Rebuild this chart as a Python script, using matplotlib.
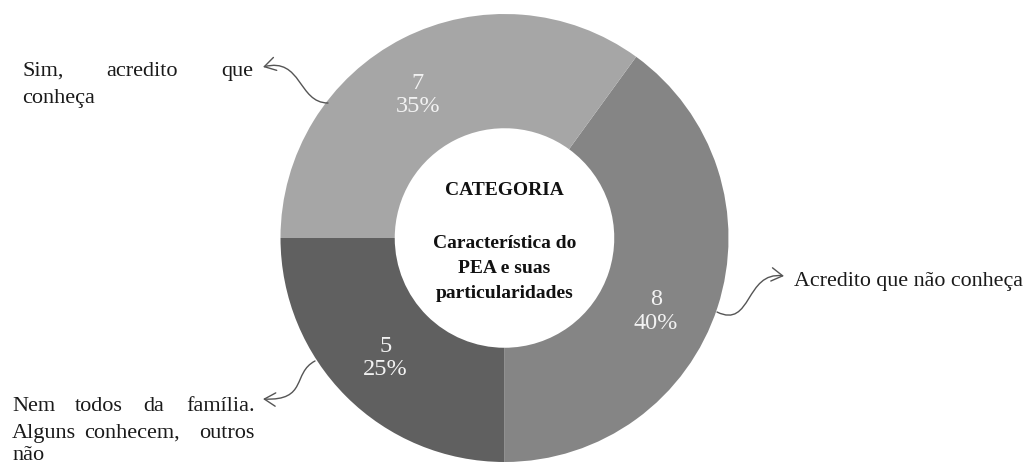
import numpy as np
import matplotlib
matplotlib.use("Agg")
import matplotlib.pyplot as plt
from matplotlib.patches import FancyArrowPatch
from matplotlib.path import Path

# ---- data ----
categories = ["Acredito que não conheça",
              "Nem todos da família. Alguns conhecem, outros não",
              "Sim, acredito que conheça"]
counts = [8, 5, 7]
percents = [40, 25, 35]
center_title = "CATEGORIA"
center_lines = ["Característica do", "PEA e suas", "particularidades"]

colors = ["#858585", "#606060", "#a6a6a6"]
label_angle_offset = [-7.5, 0.0, 4.0]

W, H = 1028, 464
fig = plt.figure(figsize=(W / 100, H / 100), dpi=100)
plt.rcParams["font.family"] = ["Liberation Serif", "DejaVu Serif"]

def fx(px):
    return px / W

def fy(py):
    return 1 - py / H

cx, cy, R = 504.5, 239, 224
ax = fig.add_axes([fx(cx - R), fy(cy + R), 2 * R / W, 2 * R / H])
wedges, _ = ax.pie(counts, colors=colors, startangle=54, counterclock=False,
                   radius=1.0, wedgeprops=dict(width=0.51, linewidth=0))
ax.set_xlim(-1, 1)
ax.set_ylim(-1, 1)
ax.set_aspect("equal")
ax.axis("off")

for w, c, p, off in zip(wedges, counts, percents, label_angle_offset):
    mid = np.deg2rad((w.theta1 + w.theta2) / 2 + off)
    r = 0.75
    ax.text(r * np.cos(mid), r * np.sin(mid), f"{c}\n{p}%", ha="center",
            va="center", color="#f2f2f2", fontsize=17.5, linespacing=1.15)

# center text (baselines in pixels)
ax.text(0, (cy - 195) / R, center_title, ha="center", va="baseline",
        fontsize=14, fontweight="bold", color="#111111")
for i, line in enumerate(center_lines):
    ax.text(0, (cy - (248 + 25 * i)) / R, line, ha="center", va="baseline",
            fontsize=14, fontweight="bold", color="#111111")

# outside labels (justified lines -> words placed individually)
tc = "#1a1a1a"
fs = 16

def word(x, y, s, ha="left", size=fs):
    fig.text(fx(x), fy(y), s, ha=ha, va="baseline", fontsize=size, color=tc)

# Sim, acredito que conheça
word(22, 76, "Sim,")
word(142, 76, "acredito", ha="center")
word(253, 76, "que", ha="right")
word(22, 103, "conheça")

# Nem todos da família...
word(12, 411, "Nem")
word(99, 411, "todos", ha="center")
word(154, 411, "da", ha="center")
word(255, 411, "família.", ha="right")
word(12, 438, "Alguns")
word(132, 438, "conhecem,", ha="center")
word(255, 438, "outros", ha="right")
word(12, 460, "não")

# Acredito que não conheça
word(794, 286, categories[0], size=15.8)

# curly arrows
def curvy(pts):
    verts = [(fx(x), fy(y)) for x, y in pts]
    path = Path(verts, [Path.MOVETO, Path.CURVE4, Path.CURVE4, Path.CURVE4])
    arr = FancyArrowPatch(path=path, arrowstyle="->,head_length=5,head_width=3",
                          color="#555555", lw=1.0, transform=fig.transFigure,
                          mutation_scale=1.6)
    fig.add_artist(arr)

curvy([(328, 104), (298, 104), (302, 58), (263, 68)])
curvy([(315, 362), (292, 374), (308, 402), (263, 400)])
curvy([(717, 313), (752, 330), (745, 272), (784, 277)])

fig.savefig("out.png", dpi=100, facecolor="white")
